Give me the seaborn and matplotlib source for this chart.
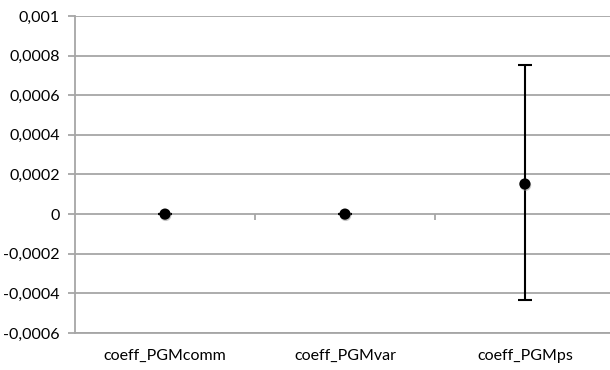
import numpy as np
import pandas as pd
import matplotlib
matplotlib.use("Agg")
import matplotlib.pyplot as plt
import matplotlib.patheffects as pe
from matplotlib.ticker import FuncFormatter, MultipleLocator
import seaborn as sns

categories = ["coeff_PGMcomm", "coeff_PGMvar", "coeff_PGMps"]
estimates = [0.0, 0.0, 0.000152]
upper = [0.0, 0.0, 0.000752]
lower = [0.0, 0.0, -0.000434]

sns.set_style("white")
plt.rcParams["font.family"] = ["Lato", "DejaVu Sans"]
plt.rcParams["font.size"] = 11.5

df = pd.DataFrame({"cat": categories, "est": estimates})

fig = plt.figure(figsize=(6.1, 3.7), dpi=100)
ax = fig.add_axes([0.123, 0.1, 0.885, 0.857])

grey = "#a6a6a6"
ax.yaxis.grid(True, color=grey, linewidth=1.3)
ax.set_axisbelow(True)

pos = np.arange(len(categories))
err = [np.array(estimates) - np.array(lower), np.array(upper) - np.array(estimates)]
ax.errorbar(pos, estimates, yerr=err, fmt="none", ecolor="black",
            elinewidth=1.5, capsize=5, capthick=1.5, zorder=3)

sns.scatterplot(data=df, x="cat", y="est", color="black", s=65,
                edgecolor="none", ax=ax, zorder=4)
for coll in ax.collections:
    coll.set_path_effects([pe.SimplePatchShadow(offset=(0.5, -1), shadow_rgbFace="#888888", alpha=0.5),
                           pe.Normal()])

ax.set_xlim(-0.5, 2.5)
ax.set_ylim(-0.0006, 0.001)
ax.yaxis.set_major_locator(MultipleLocator(0.0002))

def fmt(v, _):
    v = round(v, 6)
    if abs(v) < 1e-12:
        return "0"
    return f"{v:.4f}".rstrip("0").rstrip(".").replace(".", ",")

ax.yaxis.set_major_formatter(FuncFormatter(fmt))
ax.set_xlabel("")
ax.set_ylabel("")

for s in ["top", "right"]:
    ax.spines[s].set_visible(False)
for s in ["left", "bottom"]:
    ax.spines[s].set_color(grey)
    ax.spines[s].set_linewidth(1.3)

ax.tick_params(axis="y", left=True, length=5, color=grey, width=1.3, pad=6, labelcolor="black")
ax.tick_params(axis="x", bottom=False, pad=8, labelcolor="black")

# category axis crossing at zero, with tick marks between categories
zero_frac = (0 - (-0.0006)) / (0.001 - (-0.0006))
sec = ax.secondary_xaxis(zero_frac)
sec.set_xticks([0.5, 1.5])
sec.tick_params(axis="x", length=4, color=grey, width=1.3, labelbottom=False, labeltop=False,
                direction="out", bottom=True, top=False)
sec.xaxis.set_ticks_position("bottom")
sec.set_xticklabels([])
for s in sec.spines.values():
    s.set_visible(False)

fig.savefig("out.png", dpi=100)
